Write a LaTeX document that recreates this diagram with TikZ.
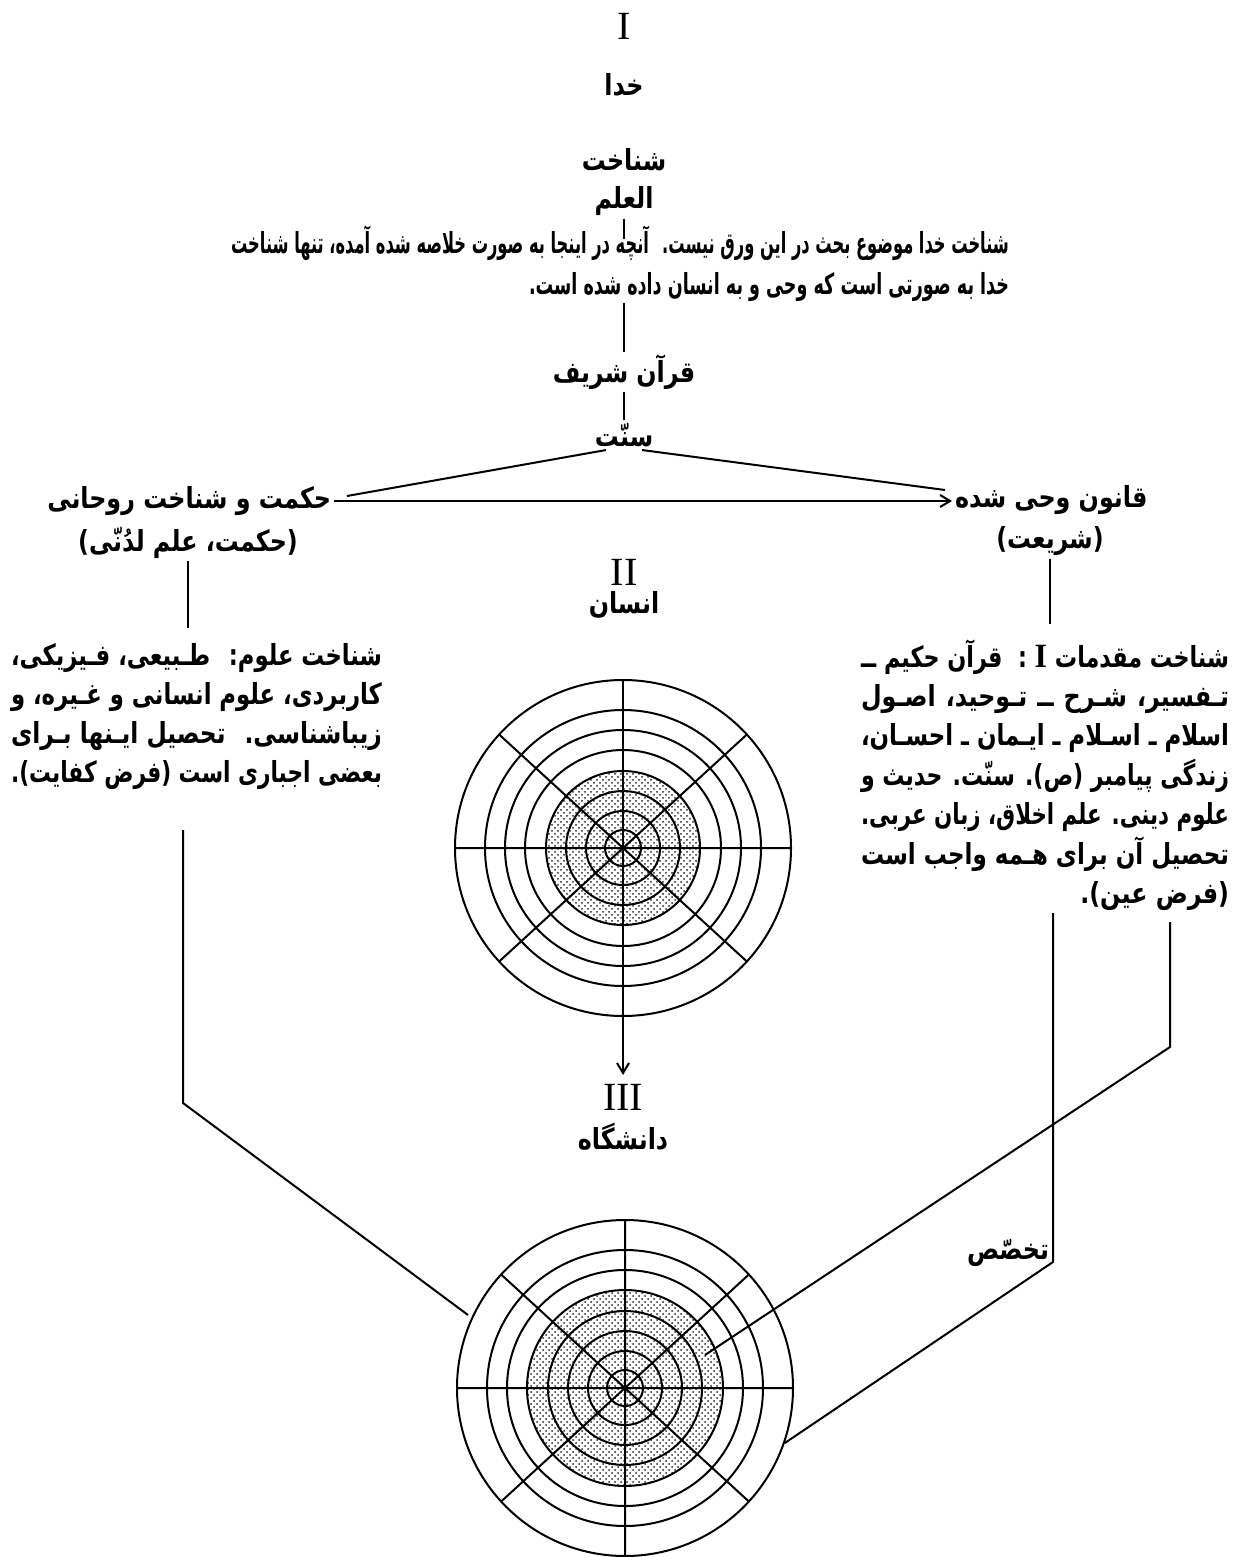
\documentclass[tikz,border=0pt]{standalone}
\usepackage{fontspec}
\usepackage{graphicx}
\usetikzlibrary{arrows.meta,patterns}
\TeXXeTstate=1
\newfontfamily\arf[Script=Arabic,FakeStretch=0.82]{DejaVu Sans}
\newfontfamily\romf{Liberation Serif}
\newlength\fitW
\newsavebox\fitbox
\newcommand\fitline[2]{%
  \setlength\fitW{#1}%
  \sbox\fitbox{#2}%
  \ifdim\wd\fitbox>\fitW
    \pgfmathsetmacro\fitr{\the\fitW/\the\wd\fitbox}%
    \hbox to \fitW{\scalebox{\fitr}[1]{\usebox\fitbox}}%
  \else
    \hbox to \fitW{#2}%
  \fi}
\newcommand\lastline[2]{%
  \setlength\fitW{#1}%
  \sbox\fitbox{#2}%
  \ifdim\wd\fitbox>\fitW
    \pgfmathsetmacro\fitr{\the\fitW/\the\wd\fitbox}%
    \hbox to \fitW{\scalebox{\fitr}[1]{\usebox\fitbox}}%
  \else
    \hbox to \fitW{\hfill\usebox\fitbox}%
  \fi}
\newcommand\romI{{\romf\fontsize{17}{20}\selectfont I}}
\begin{document}
\begin{tikzpicture}[x=0.5pt,y=-0.5pt,line width=1pt,
  ar/.style={font=\arf\bfseries\fontsize{14.5}{20}\selectfont,inner sep=1pt},
  rom/.style={font=\romf\fontsize{20}{24}\selectfont,inner sep=1pt},
  link/.style={line width=1pt},
  tip/.style={-{Straight Barb[length=5pt,width=6pt]}},
  ring/.style={line width=1pt},
  shade/.style={pattern=crosshatch dots,pattern color=black!85}]
\useasboundingbox (0,0) rectangle (1237,1557);
% ---- top column
\node[rom] (n1) at (624,26) {I};
\node[ar] (khoda) at (624,85) {\beginR خدا\endR};
\node[ar] (shen) at (624,160) {\beginR شناخت\endR};
\node[ar] (elm) at (624,201) {\beginR العلم\endR};
\node[ar,anchor=base east,inner sep=0pt] (para) at (1010,254) {\vtop{\baselineskip=20.5pt\lineskiplimit=-30pt
  \fitline{389pt}{\beginR شناخت خدا موضوع بحث در این ورق نیست. \ آنچه در اینجا به صورت خلاصه شده آمده، تنها شناخت\endR}
  \hbox to 389pt{\hfill\fitline{240pt}{\beginR خدا به صورتی است که وحی و به انسان داده شده است.\endR}}}};
\node[ar] (quran) at (624,372) {\beginR قرآن شریف\endR};
\node[ar] (sonnat) at (624,435) {\beginR سنّت\endR};
\draw[link] (elm.south) -- ([yshift=-7pt]elm.south |- para.north);
\draw[link] (quran.north |- para.south) -- (quran.north);
\draw[link] (quran.south) -- (sonnat.north);
% ---- branches
\node[ar,anchor=east] (hekmat) at (334,501) {\beginR حکمت و شناخت روحانی\endR};
\node[ar] (hekmat2) at (188,543) {\beginR (حکمت، علم لدُنّی)\endR};
\node[ar,anchor=west] (qanun) at (952,500) {\beginR قانون وحی شده\endR};
\node[ar] (qanun2) at (1050,541) {\beginR (شریعت)\endR};
\coordinate (sL) at (347,496);
\coordinate (sR) at (945,490);
\draw[link] ([xshift=-9pt]sonnat.south) -- (sL);
\draw[link] ([xshift=9pt]sonnat.south) -- (sR);
\draw[link,tip] (hekmat.east) -- (hekmat.east -| qanun.west);
% ---- side blocks
\node[ar,anchor=base east,inner sep=0pt] (lb) at (383,665) {\vtop{\baselineskip=19.5pt\lineskiplimit=-30pt
  \fitline{185.5pt}{\beginR شناخت علوم: \ طـبیعی، فـیزیکی،\endR}
  \fitline{185.5pt}{\beginR کاربردی، علوم انسانی و غـیره، و\endR}
  \fitline{185.5pt}{\beginR زیباشناسی. \ تحصیل ایـنها بـرای\endR}
  \fitline{185.5pt}{\beginR بعضی اجباری است (فرض کفایت).\endR}}};
\node[ar,anchor=base east,inner sep=0pt] (rb) at (1230,667) {\vtop{\baselineskip=19.7pt\lineskiplimit=-30pt
  \fitline{184pt}{\beginR شناخت مقدمات \romI\ : \ قرآن حکیم ــ\endR}
  \fitline{184pt}{\beginR تـفسیر، شـرح ــ تـوحید، اصـول\endR}
  \fitline{184pt}{\beginR اسلام ـ اسـلام ـ ایـمان ـ احسـان،\endR}
  \fitline{184pt}{\beginR زندگی پیامبر (ص). سنّت. حدیث و\endR}
  \fitline{184pt}{\beginR علوم دینی. علم اخلاق، زبان عربی.\endR}
  \fitline{184pt}{\beginR تحصیل آن برای هـمه واجب است\endR}
  \lastline{184pt}{\beginR (فرض عین).\endR}}};
\draw[link] (hekmat2.south) -- ([yshift=7pt]hekmat2.south |- lb.north);
\draw[link] (qanun2.south) -- ([yshift=7pt]qanun2.south |- rb.north);
% ---- man
\node[rom] (n2) at (624,572) {II};
\node[ar] (ensan) at (624,605) {\beginR انسان\endR};
\node[circle,minimum size=168pt,inner sep=0pt] (c1) at (623,848) {};
\begin{scope}[shift={(c1.center)}]
  \fill[shade] (0,0) circle[radius=38.5pt];
  \foreach \r in {84,69,59,49,38.5,28.5,18.5,9} \draw[ring] (0,0) circle[radius=\r pt];
  \draw[ring] (-84pt,0) -- (84pt,0) (42.5:84pt) -- (222.5:84pt) (137.5:84pt) -- (317.5:84pt);
\end{scope}
\draw[ring] (c1.north) -- (c1.south);
\node[rom] (n3) at (623,1097) {III};
\node[ar] (dan) at (623,1137) {\beginR دانشگاه\endR};
\draw[link,tip] (c1.south) -- ([yshift=3pt]n3.north);
% ---- university
\node[circle,minimum size=168pt,inner sep=0pt] (c2) at (625,1388) {};
\begin{scope}[shift={(c2.center)}]
  \fill[shade] (0,0) circle[radius=49pt];
  \foreach \r in {84,69,59,49,38.5,28.5,18.5,9} \draw[ring] (0,0) circle[radius=\r pt];
  \draw[ring] (-84pt,0) -- (84pt,0) (0,-84pt) -- (0,84pt) (42.5:84pt) -- (222.5:84pt) (137.5:84pt) -- (317.5:84pt);
\end{scope}
\node[ar] (takh) at (1008,1253) {\beginR تخصّص\endR};
% ---- connectors to university
\coordinate (La) at (183,830);
\coordinate (Lb) at (183,1103);
\draw[link] (La) -- (Lb) -- ([shift={(-157,-73)}]c2.center);
\coordinate (Ra) at (1170,922);
\coordinate (Rb) at (1170,1047);
\draw[link] (Ra) -- (Rb) -- ([shift={(80,-33)}]c2.center);
\coordinate (Sa) at (1053,913);
\coordinate (Sb) at (1053,1262);
\draw[link] (Sa) -- (Sb) -- (c2.-19);
\end{tikzpicture}
\end{document}
